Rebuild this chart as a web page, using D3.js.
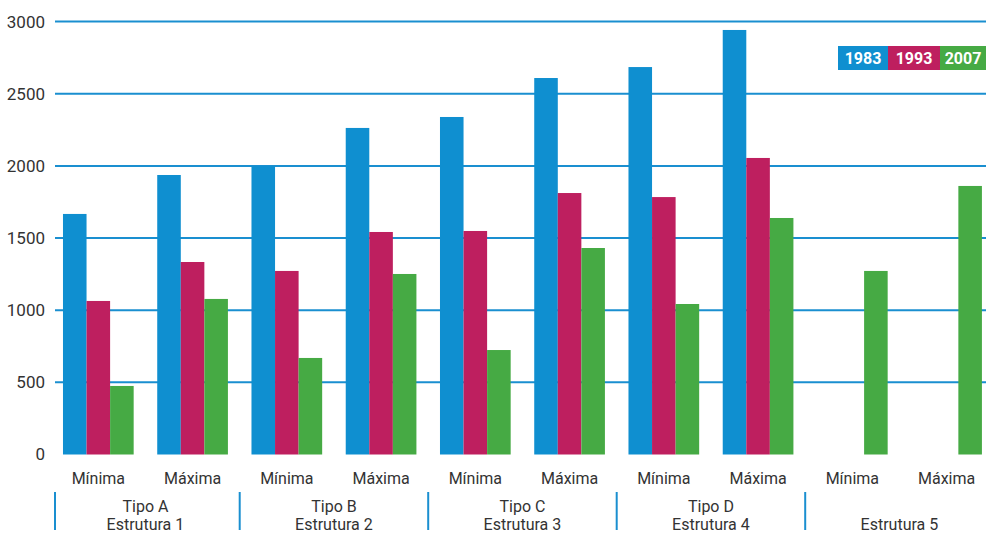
<!DOCTYPE html>
<html>
<head>
<meta charset="utf-8">
<script src="https://cdn.jsdelivr.net/npm/d3@7"></script>
<style>
  body { margin: 0; background: #fff; }
  text { font-family: Roboto, "Noto Sans", sans-serif; }
</style>
</head>
<body>
<div id="chart"></div>
<script>
// Data
const categories = ["A-min", "A-max", "B-min", "B-max", "C-min", "C-max", "D-min", "D-max", "E-min", "E-max"];
const categoryLabels = ["Mínima", "Máxima", "Mínima", "Máxima", "Mínima", "Máxima", "Mínima", "Máxima", "Mínima", "Máxima"];
const years = ["1983", "1993", "2007"];
const values1983 = [1667, 1937, 1998, 2263, 2339, 2609, 2685, 2942, null, null];
const values1993 = [1064, 1334, 1272, 1542, 1549, 1812, 1784, 2055, null, null];
const values2007 = [475, 1078, 669, 1251, 724, 1431, 1043, 1639, 1272, 1861];
const groupLabels = [["Tipo A", "Estrutura 1"], ["Tipo B", "Estrutura 2"], ["Tipo C", "Estrutura 3"], ["Tipo D", "Estrutura 4"], ["", "Estrutura 5"]];
const yTicks = [0, 500, 1000, 1500, 2000, 2500, 3000];

const colors = { "1983": "#0f8fd0", "1993": "#be1f5f", "2007": "#46aa44" };
const series = { "1983": values1983, "1993": values1993, "2007": values2007 };

const width = 986, height = 534;
const plotLeft = 55;

const svg = d3.select("#chart").append("svg")
    .attr("width", width)
    .attr("height", height);

const x = d3.scaleBand()
    .domain(categories)
    .range([51.2, 993.7])
    .paddingInner(0.25)
    .paddingOuter(0.125);

const xs = d3.scaleBand()
    .domain(years)
    .range([0, x.bandwidth()]);

const y = d3.scaleLinear()
    .domain([0, 3000])
    .range([454.5, 21.6]);

// gridlines (no line at zero)
svg.append("g").selectAll("line")
    .data(yTicks.filter(d => d > 0))
    .enter().append("line")
    .attr("x1", plotLeft)
    .attr("x2", width)
    .attr("y1", d => y(d))
    .attr("y2", d => y(d))
    .attr("stroke", "#1a8fd0")
    .attr("stroke-width", 2);

// y tick labels
svg.append("g").selectAll("text")
    .data(yTicks)
    .enter().append("text")
    .attr("x", 45)
    .attr("y", d => y(d))
    .attr("dy", "0.35em")
    .attr("text-anchor", "end")
    .attr("font-size", 17)
    .attr("fill", "#333")
    .text(d => d);

// bars
const groups = svg.append("g").selectAll("g")
    .data(categories)
    .enter().append("g")
    .attr("transform", d => `translate(${x(d)},0)`);

groups.selectAll("rect")
    .data((d, i) => years.map(yr => ({ year: yr, value: series[yr][i] })).filter(e => e.value != null))
    .enter().append("rect")
    .attr("x", d => xs(d.year))
    .attr("width", xs.bandwidth())
    .attr("y", d => y(d.value))
    .attr("height", d => y(0) - y(d.value))
    .attr("fill", d => colors[d.year]);

// category labels
svg.append("g").selectAll("text")
    .data(categories)
    .enter().append("text")
    .attr("x", d => x(d) + x.bandwidth() / 2)
    .attr("y", 484)
    .attr("text-anchor", "middle")
    .attr("font-size", 16)
    .attr("fill", "#333")
    .text((d, i) => categoryLabels[i]);

// group labels and separators
const gap = x.step() - x.bandwidth();
groupLabels.forEach((lbl, i) => {
    const first = categories[i * 2], second = categories[i * 2 + 1];
    const sepX = i === 0 ? plotLeft : x(first) - gap / 2;
    const cx = (x(first) + x(second) + x.bandwidth()) / 2;
    svg.append("line")
        .attr("x1", sepX).attr("x2", sepX)
        .attr("y1", 492).attr("y2", 530)
        .attr("stroke", "#1a8fd0")
        .attr("stroke-width", 2);
    svg.append("text")
        .attr("x", cx).attr("y", 512)
        .attr("text-anchor", "middle")
        .attr("font-size", 16)
        .attr("fill", "#333")
        .text(lbl[0]);
    svg.append("text")
        .attr("x", cx).attr("y", 530)
        .attr("text-anchor", "middle")
        .attr("font-size", 16)
        .attr("fill", "#333")
        .text(lbl[1]);
});

// legend
const legendX = [838, 888, 940], legendW = [50, 52, 46];
const legend = svg.append("g").selectAll("g")
    .data(years)
    .enter().append("g")
    .attr("transform", (d, i) => `translate(${legendX[i]},46)`);
legend.append("rect")
    .attr("width", (d, i) => legendW[i])
    .attr("height", 24)
    .attr("fill", d => colors[d]);
legend.append("text")
    .attr("x", (d, i) => legendW[i] / 2)
    .attr("y", 12)
    .attr("dy", "0.36em")
    .attr("text-anchor", "middle")
    .attr("font-size", 16)
    .attr("font-weight", "bold")
    .attr("fill", "#fff")
    .text(d => d);
</script>
</body>
</html>
